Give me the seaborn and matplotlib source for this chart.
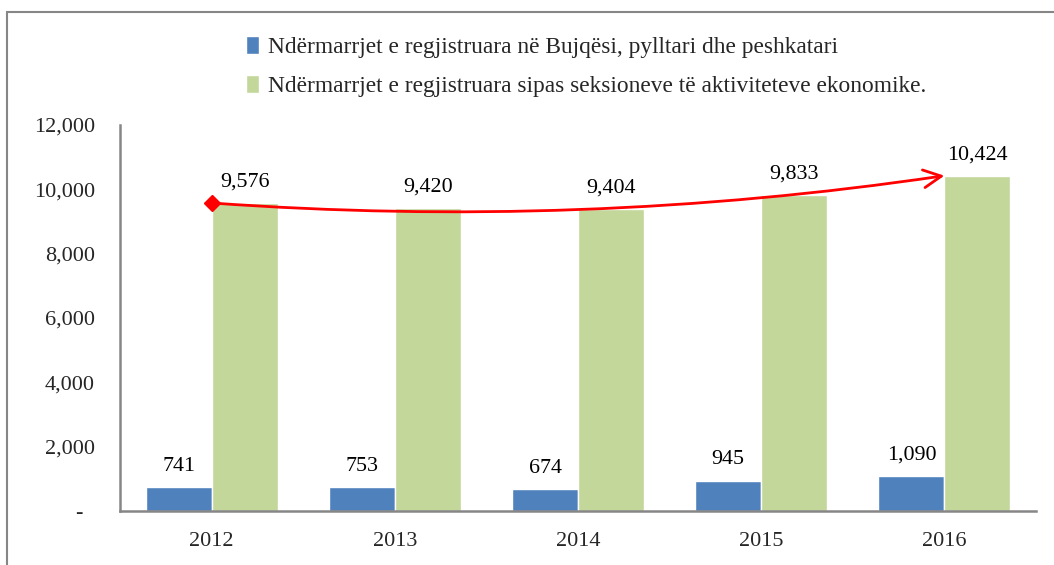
import matplotlib
matplotlib.use("Agg")
import matplotlib.pyplot as plt
import matplotlib.patches as mpatches
import matplotlib.ticker as mticker
import seaborn as sns
import pandas as pd
import numpy as np

years = ["2012", "2013", "2014", "2015", "2016"]
agri = [741, 753, 674, 945, 1090]
total = [9576, 9420, 9404, 9833, 10424]
series_names = ["Ndërmarrjet e regjistruara në Bujqësi, pylltari dhe peshkatari",
                "Ndërmarrjet e regjistruara sipas seksioneve të aktiviteteve ekonomike."]
colors = ["#4F81BD", "#C4D79B"]

df = pd.DataFrame({
    "year": years * 2,
    "value": agri + total,
    "series": [series_names[0]] * len(years) + [series_names[1]] * len(years),
})

sns.set_style("white")
plt.rcParams["font.family"] = ["Liberation Serif", "DejaVu Serif"]

fig = plt.figure(figsize=(10.54, 5.65), dpi=100)
ax = fig.add_axes([120/1054, 1-511/565, (1036-120)/1054, (511-125)/565])

sns.barplot(data=df, x="year", y="value", hue="series", palette=colors,
            width=0.72, gap=0, saturation=1, ax=ax, legend=True)

for cont in ax.containers:
    ax.bar_label(cont, labels=[f"{v:,.0f}" for v in cont.datavalues],
                 padding=8, fontsize=15.8, color="black")

ax.set_ylim(0, 12000)
ax.set_yticks(np.arange(0, 12001, 2000))
ax.yaxis.set_major_formatter(mticker.FuncFormatter(
    lambda v, p: "-  " if v == 0 else f"{v:,.0f}"))
ax.set_xlabel("")
ax.set_ylabel("")
ax.tick_params(axis="y", labelsize=16, pad=18, length=0)
ax.tick_params(axis="x", labelsize=16, pad=15, length=0)
for s in ["top", "right"]:
    ax.spines[s].set_visible(False)
for s in ["left", "bottom"]:
    ax.spines[s].set_color("#868686")
    ax.spines[s].set_linewidth(1.8)
ax.set_xlim(-0.5, len(years) - 0.5)

# trend arrow from first to last green bar
x_idx = np.arange(len(years))
ax.annotate("", xy=(x_idx[-1], total[-1]), xytext=(x_idx[0], total[0]),
            arrowprops=dict(arrowstyle="->", color="red", lw=2,
                            connectionstyle="arc3,rad=0.055",
                            mutation_scale=32, shrinkA=0, shrinkB=0),
            zorder=5)
ax.plot([x_idx[0]], [total[0]], marker="D", color="red", ms=8, zorder=6, clip_on=False)

# legend
handles, labels = ax.get_legend_handles_labels()
ax.get_legend().remove()
fig.legend(handles, labels, loc="upper left", bbox_to_anchor=(237/1054, 1-27/565),
           frameon=False, fontsize=16.8, handlelength=0.55, handleheight=0.8,
           handletextpad=0.4, labelspacing=0.72, borderaxespad=0)

# outer border
fig.patches.append(mpatches.Rectangle((7/1054, -0.1), 2, (565-12)/565 + 0.1,
                                      transform=fig.transFigure, fill=False,
                                      edgecolor="#868686", linewidth=1.5))

fig.savefig("out.png", dpi=100)
